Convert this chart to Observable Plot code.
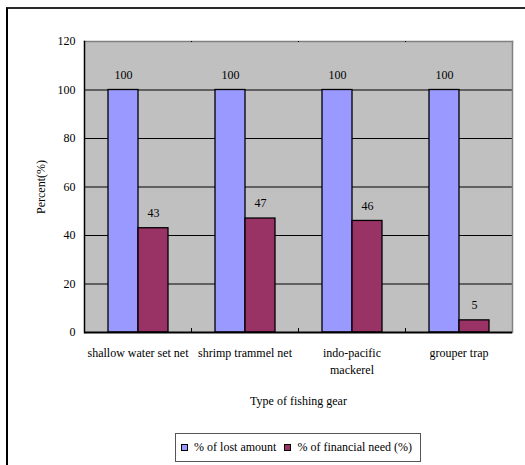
<!DOCTYPE html>
<html>
<head>
<meta charset="utf-8">
<script src="https://cdn.jsdelivr.net/npm/d3@7"></script>
<script src="https://cdn.jsdelivr.net/npm/@observablehq/plot@0.6"></script>
<style>
  html, body { margin: 0; padding: 0; background: #fff; overflow: hidden; }
  #wrap { position: relative; width: 525px; height: 465px; overflow: hidden;
          font-family: 'Liberation Serif', 'Times New Roman', Times, 'DejaVu Serif', serif; }
  #chart { position: absolute; left: 0; top: 0; }
  #chart svg text { font-family: 'Liberation Serif', 'Times New Roman', Times, 'DejaVu Serif', serif; }
  #outline { position: absolute; left: 6px; top: 7px; width: 700px; height: 700px;
             border-left: 2px solid #000; border-top: 2px solid #2a2a2a; pointer-events: none; }
  #legend { position: absolute; right: 104px; top: 433px; height: 29px; box-sizing: border-box;
            border: 1px solid #555; background: #fff; display: flex; align-items: center;
            padding: 0 8px 0 5px; font-size: 12px; color: #000; white-space: nowrap; }
  .item { display: flex; align-items: center; }
  .item + .item { margin-left: 8px; }
  .sw { display: inline-block; width: 5px; height: 5px; border: 1px solid #000; margin-right: 6px; }
</style>
</head>
<body>
<div id="wrap">
  <div id="chart"></div>
  <div id="legend"></div>
  <div id="outline"></div>
</div>
<script>
// Fishing gear types and their axis labels
const categories = ["shallow water set net", "shrimp trammel net", "indo-pacific mackerel", "grouper trap"];
const tickLabels = ["shallow water set net", "shrimp trammel net", "indo-pacific\nmackerel", "grouper trap"];

// Two series per gear type
const seriesNames = ["% of lost amount", "% of financial need (%)"];
const lostAmount = [100, 100, 100, 100];
const financialNeed = [43, 47, 46, 5];
const seriesColors = ["#9999ff", "#993366"];

const yTicks = [0, 20, 40, 60, 80, 100, 120];

const rows = categories.flatMap((c, i) => [
  {category: c, series: seriesNames[0], value: lostAmount[i]},
  {category: c, series: seriesNames[1], value: financialNeed[i]}
]);

const W = 525, H = 465;
const M = {top: 41, right: 13, bottom: 133, left: 83};
const plotH = H - M.top - M.bottom;
const serif = "'Liberation Serif', 'Times New Roman', Times, 'DejaVu Serif', serif";
const fs = 12;

const chart = Plot.plot({
  width: W,
  height: H,
  marginTop: M.top,
  marginRight: M.right,
  marginBottom: M.bottom,
  marginLeft: M.left,
  style: {fontFamily: serif, fontSize: `${fs}px`, color: "#000", background: "transparent"},
  fx: {domain: categories, padding: 0},
  x: {domain: seriesNames, paddingInner: 0, paddingOuter: 0.73, axis: null},
  y: {domain: [0, 120], axis: null},
  color: {domain: seriesNames, range: seriesColors},
  marks: [
    // grey plot area
    Plot.frame({fill: "#c0c0c0", stroke: null, facet: "super"}),
    Plot.gridY({ticks: yTicks, stroke: "#000", strokeOpacity: 1, strokeWidth: 1}),
    Plot.barY(rows, {fx: "category", x: "series", y: "value", fill: "series", stroke: "#000", strokeWidth: 1.3}),
    Plot.text(rows, {fx: "category", x: "series", y: "value", text: d => String(d.value), dy: -15, fontSize: fs, fill: "#000"}),
    // plot area border: grey top and right, black axes
    Plot.frame({anchor: "top", stroke: "#808080", strokeWidth: 1.5, facet: "super"}),
    Plot.frame({anchor: "right", stroke: "#808080", strokeWidth: 1.5, facet: "super"}),
    Plot.frame({anchor: "left", stroke: "#000", strokeWidth: 1.5, facet: "super"}),
    // short category divider ticks on the baseline
    Plot.frame({anchor: "left", stroke: "#000", strokeWidth: 1, strokeDasharray: `0 ${plotH - 4} 4`}),
    Plot.ruleY([0], {stroke: "#000", strokeWidth: 2}),
    Plot.axisY({
      ticks: yTicks, tickSize: 0, tickPadding: 9, fontSize: fs,
      label: "Percent(%)", labelAnchor: "center", labelArrow: "none", labelOffset: 48
    }),
    Plot.axisFx({
      anchor: "bottom", tickSize: 0, tickPadding: 13, fontSize: fs, lineHeight: 1.4,
      tickFormat: d => tickLabels[categories.indexOf(d)],
      label: "Type of fishing gear", labelAnchor: "center", labelArrow: "none", labelOffset: 72
    })
  ]
});
document.getElementById("chart").appendChild(chart);

// Legend built from the series names and colours
const legend = d3.select("#legend");
seriesNames.forEach((name, i) => {
  const item = legend.append("span").attr("class", "item");
  item.append("span").attr("class", "sw").style("background", seriesColors[i]);
  item.append("span").text(name);
});
</script>
</body>
</html>
